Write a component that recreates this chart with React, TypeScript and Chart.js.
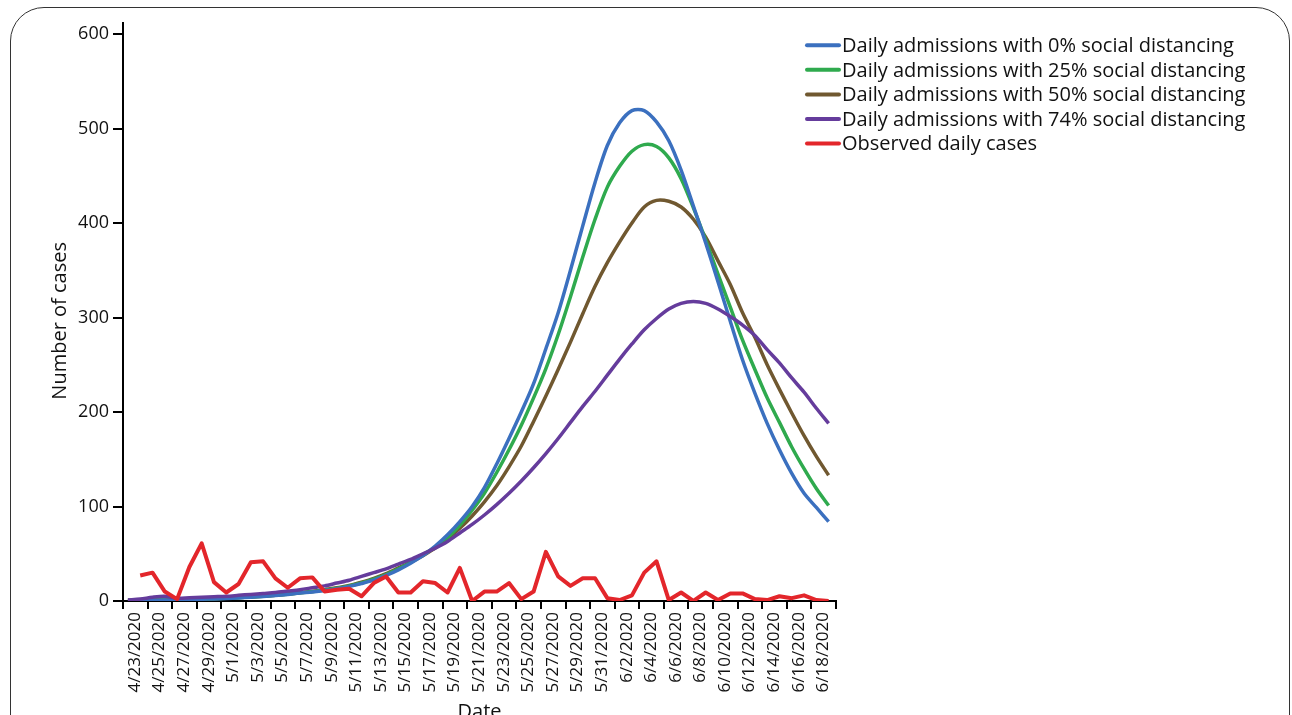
import React, { useEffect, useRef } from 'react';
import { Chart, registerables } from 'chart.js';

Chart.register(...registerables);

const FONT = '"Open Sans", "Noto Sans", sans-serif';

const dateLabels = [
  '4/23/2020', '4/24/2020', '4/25/2020', '4/26/2020', '4/27/2020', '4/28/2020', '4/29/2020', '4/30/2020',
  '5/1/2020', '5/2/2020', '5/3/2020', '5/4/2020', '5/5/2020', '5/6/2020', '5/7/2020', '5/8/2020',
  '5/9/2020', '5/10/2020', '5/11/2020', '5/12/2020', '5/13/2020', '5/14/2020', '5/15/2020', '5/16/2020',
  '5/17/2020', '5/18/2020', '5/19/2020', '5/20/2020', '5/21/2020', '5/22/2020', '5/23/2020', '5/24/2020',
  '5/25/2020', '5/26/2020', '5/27/2020', '5/28/2020', '5/29/2020', '5/30/2020', '5/31/2020',
  '6/1/2020', '6/2/2020', '6/3/2020', '6/4/2020', '6/5/2020', '6/6/2020', '6/7/2020', '6/8/2020',
  '6/9/2020', '6/10/2020', '6/11/2020', '6/12/2020', '6/13/2020', '6/14/2020', '6/15/2020', '6/16/2020',
  '6/17/2020', '6/18/2020', '6/19/2020',
];

const sd0 = [
  0.5, 0.6, 0.8, 1.0, 1.2, 1.5, 1.8, 2.2, 2.7, 3.3, 4.0, 4.8, 5.8, 7.0, 8.4, 9.5, 11, 13, 15.5, 18.5,
  22, 27, 33, 40, 48, 58, 70, 84, 100, 120, 145, 172, 200, 230, 267, 305, 350, 397, 443, 482,
  506, 519, 519, 507, 487, 456, 418, 379, 338, 296, 255, 220, 188, 160, 135, 114, 99, 84,
];

const sd25 = [
  0.6, 0.7, 0.9, 1.1, 1.3, 1.6, 2.0, 2.4, 2.9, 3.5, 4.2, 5.0, 6.0, 7.2, 8.6, 10, 11.5, 13.5, 16, 19,
  23, 28, 34, 41, 49, 57, 67, 80, 96, 114, 136, 160, 186, 215, 246, 282, 322, 364, 404, 438,
  460, 476, 483, 481, 469, 447, 416, 382, 346, 311, 276, 245, 215, 189, 163, 140, 119, 101,
];

const sd50 = [
  0.7, 0.8, 1.0, 1.2, 1.4, 1.7, 2.1, 2.5, 3.0, 3.6, 4.3, 5.1, 6.1, 7.3, 8.7, 10, 12, 14, 16.5, 20,
  24, 29, 35, 41, 48, 56, 66, 77, 90, 105, 122, 142, 164, 190, 217, 245, 274, 304, 333, 358,
  380, 400, 417, 424, 423, 417, 404, 385, 360, 335, 305, 279, 250, 224, 199, 175, 153, 133,
];

const sd74 = [
  1, 2, 4, 5, 3, 3.5, 4, 4.5, 5, 6, 7, 8, 9, 10.5, 12, 14, 16, 19, 22, 26,
  30, 34, 39, 44, 50, 56, 63, 72, 81, 91, 102, 114, 127, 141, 156, 172, 189, 206, 222, 239,
  256, 272, 287, 299, 309, 315, 317, 315, 309, 301, 292, 281, 266, 252, 236, 221, 204, 188,
];

const observed = [
  null, 27, 30, 10, 2, 36, 61, 20, 9, 18, 41, 42, 24, 14, 24, 25, 10, 12, 13, 5,
  19, 26, 9, 9, 21, 19, 9, 35, 0, 10, 10, 19, 2, 10, 52, 26, 16, 24, 24, 3,
  1, 6, 30, 42, 1, 9, 0, 9, 1, 8, 8, 2, 1, 5, 3, 6, 1, 0,
];

const seriesNames = [
  'Daily admissions with 0% social distancing',
  'Daily admissions with 25% social distancing',
  'Daily admissions with 50% social distancing',
  'Daily admissions with 74% social distancing',
  'Observed daily cases',
];
const seriesColors = ['#3B70BF', '#2FAA4E', '#705830', '#653C9C', '#E3262B'];
const seriesData = [sd0, sd25, sd50, sd74, observed];
const seriesWidths = [3.5, 3.5, 3.5, 3.5, 4];
const seriesOrder = [2, 3, 4, 1, 0];

const yTickValues = [0, 100, 200, 300, 400, 500, 600];
const yTitle = 'Number of cases';

const legendPlugin = {
  id: 'customLegend',
  afterDraw(chart: any) {
    const { ctx, chartArea } = chart;
    const x0 = chartArea.right - 31;
    const y0 = chartArea.top + 22.5;
    const step = 24.6;
    ctx.save();
    ctx.font = `20px ${FONT}`;
    ctx.textBaseline = 'middle';
    ctx.textAlign = 'left';
    seriesNames.forEach((name, i) => {
      const y = y0 + i * step;
      ctx.strokeStyle = seriesColors[i];
      ctx.lineWidth = 4;
      ctx.lineCap = 'round';
      ctx.beginPath();
      ctx.moveTo(x0 + 2, y);
      ctx.lineTo(x0 + 34, y);
      ctx.stroke();
      ctx.fillStyle = '#111';
      ctx.fillText(name, x0 + 37, y + 1);
    });
    // y-axis title
    ctx.translate(chartArea.left - 63, (chartArea.top + chartArea.bottom) / 2 + 9);
    ctx.rotate(-Math.PI / 2);
    ctx.textAlign = 'center';
    ctx.font = `20px ${FONT}`;
    ctx.fillText(yTitle, 0, 0);
    ctx.restore();
  },
};

export default function App() {
  const canvasRef = useRef<HTMLCanvasElement | null>(null);

  useEffect(() => {
    if (!canvasRef.current) return;
    const xTickValues = Array.from({ length: 30 }, (_, k) => -0.4 + 2 * k);
    const chart = new Chart(canvasRef.current, {
      type: 'line',
      data: {
        datasets: seriesNames.map((name, s) => ({
          label: name,
          data: seriesData[s].map((v, i) => ({ x: i, y: v })),
          borderColor: seriesColors[s],
          backgroundColor: seriesColors[s],
          borderWidth: seriesWidths[s],
          pointRadius: 0,
          tension: s === 4 ? 0 : 0.3,
          fill: false,
          order: seriesOrder[s],
          borderJoinStyle: 'round' as const,
        })),
      },
      options: {
        animation: false,
        responsive: true,
        maintainAspectRatio: false,
        layout: { padding: { left: 40, top: 22.7, right: 456, bottom: 0 } },
        plugins: { legend: { display: false }, tooltip: { enabled: false } },
        scales: {
          x: {
            type: 'linear',
            min: -0.4,
            max: 57.6,
            afterBuildTicks: (scale: any) => {
              scale.ticks = xTickValues.map((v) => ({ value: v }));
            },
            afterFit: (scale: any) => {
              scale.height = 139;
            },
            grid: { drawOnChartArea: false, drawTicks: true, tickLength: 8, color: '#000', lineWidth: 2 },
            border: { display: true, color: '#000', width: 2 },
            ticks: {
              autoSkip: false,
              maxRotation: 90,
              minRotation: 90,
              padding: 3,
              labelOffset: 12,
              color: '#111',
              font: { family: FONT, size: 17 },
              callback: (_v: any, i: number) => (i < 29 ? dateLabels[i * 2] : ''),
            },
            title: {
              display: true,
              text: 'Date',
              color: '#111',
              font: { family: FONT, size: 20 },
              padding: { top: 0, bottom: 16 },
            },
          },
          y: {
            type: 'linear',
            min: 0,
            max: 612,
            afterBuildTicks: (scale: any) => {
              scale.ticks = yTickValues.map((v) => ({ value: v }));
            },
            afterFit: (scale: any) => {
              scale.width = 83;
            },
            grid: { drawOnChartArea: false, drawTicks: true, tickLength: 10, color: '#000', lineWidth: 2 },
            border: { display: true, color: '#000', width: 2 },
            ticks: { padding: 4, color: '#111', font: { family: FONT, size: 18 } },
            title: { display: false },
          },
        },
      },
      plugins: [legendPlugin],
    });
    return () => chart.destroy();
  }, []);

  return (
    <div style={{ position: 'fixed', left: 0, top: 0, width: 1292, height: 715, overflow: 'hidden', background: '#fff' }}>
      <div
        style={{
          position: 'absolute',
          left: 10,
          top: 7,
          width: 1280,
          height: 800,
          border: '1.5px solid #333',
          borderRadius: 34,
          boxSizing: 'border-box',
        }}
      />
      <div style={{ position: 'absolute', left: 0, top: 0, width: 1292, height: 740 }}>
        <canvas ref={canvasRef} />
      </div>
    </div>
  );
}
